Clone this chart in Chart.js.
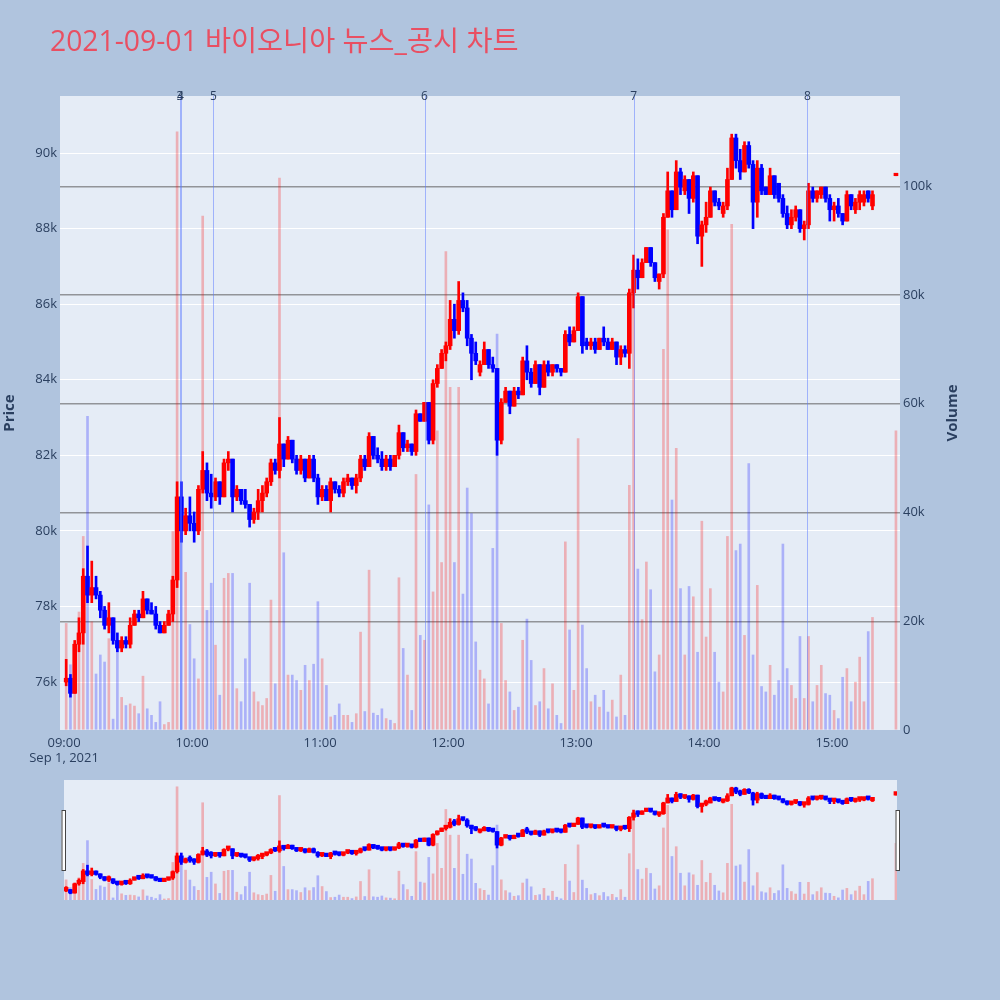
<!DOCTYPE html>
<html><head><meta charset="utf-8">
<script src="https://cdn.jsdelivr.net/npm/chart.js@4.4.0/dist/chart.umd.min.js"></script>
<style>
html,body{margin:0;padding:0;background:#B0C4DE;width:1000px;height:1000px;overflow:hidden;}
#title{position:absolute;left:50px;top:24px;line-height:32px;font-size:28.3px;font-family:"Open Sans","Noto Sans CJK KR",sans-serif;color:#E94F62;white-space:nowrap;}
#main{position:absolute;left:0;top:0;}
#slider{position:absolute;left:0;top:780px;}
</style></head><body>
<canvas id="main" width="1000" height="780"></canvas>
<canvas id="slider" width="1000" height="120"></canvas>
<div id="title">2021-09-01 바이오니아 뉴스_공시 차트</div>
<script>
// minutes after 09:00 (2-minute candles, midpoint) + closing auction 15:30
const candleMinutes = [1,3,5,7,9,11,13,15,17,19,21,23,25,27,29,31,33,35,37,39,
41,43,45,47,49,51,53,55,57,59,61,63,65,67,69,71,73,75,77,79,
81,83,85,87,89,91,93,95,97,99,101,103,105,107,109,111,113,115,117,119,
121,123,125,127,129,131,133,135,137,139,141,143,145,147,149,151,153,155,157,159,
161,163,165,167,169,171,173,175,177,179,181,183,185,187,189,191,193,195,197,199,
201,203,205,207,209,211,213,215,217,219,221,223,225,227,229,231,233,235,237,239,
241,243,245,247,249,251,253,255,257,259,261,263,265,267,269,271,273,275,277,279,
281,283,285,287,289,291,293,295,297,299,301,303,305,307,309,311,313,315,317,319,
321,323,325,327,329,331,333,335,337,339,341,343,345,347,349,351,353,355,357,359,
361,363,365,367,369,371,373,375,377,379,390];
// prices in thousand KRW
const openK = [76.0,76.1,75.7,77.0,77.3,78.8,78.3,78.5,78.3,77.9,
77.5,77.7,77.1,76.9,77.1,77.0,77.5,77.8,77.7,78.2,
77.9,77.8,77.5,77.3,77.5,77.8,78.7,80.9,80.0,80.4,
80.2,80.0,81.1,81.6,81.0,80.9,81.3,80.9,81.8,81.9,
80.9,81.1,80.8,80.7,80.3,80.5,80.8,81.0,81.3,81.8,
81.6,82.3,81.9,82.4,81.9,81.6,81.9,81.4,81.9,81.4,
80.9,81.1,80.8,81.3,81.1,81.0,81.3,81.4,81.2,81.4,
81.9,81.7,82.5,82.0,81.9,81.7,81.9,81.7,82.0,82.6,
82.2,82.3,82.1,83.1,82.9,83.4,82.4,83.9,84.3,84.7,
84.9,85.6,85.3,86.1,85.9,85.1,84.7,84.2,84.4,84.8,
84.4,84.3,82.4,83.4,83.7,83.3,83.7,83.6,84.5,84.2,
83.9,84.4,83.8,84.4,84.2,84.4,84.3,84.2,85.2,85.0,
85.3,86.2,85.0,84.9,85.0,84.8,85.1,85.0,84.8,85.0,
84.6,84.8,84.7,86.3,86.9,86.7,87.1,87.5,87.1,86.6,
86.8,88.3,89.0,88.5,89.5,89.0,89.3,88.8,89.4,87.8,
88.1,88.3,89.0,88.7,88.4,88.6,89.3,90.4,89.8,89.5,
90.2,89.7,88.7,89.6,89.1,88.9,89.4,89.2,88.8,88.4,
88.1,88.3,88.5,88.0,88.1,89.0,88.8,88.9,89.1,88.8,
88.5,88.6,88.4,88.2,88.9,88.5,88.7,88.7,89.0,88.6,
89.4];
const highK = [76.6,76.2,77.1,77.7,79.0,79.6,79.2,78.8,78.4,78.0,
78.1,77.7,77.3,77.2,77.2,77.7,77.9,77.9,78.4,78.2,
78.1,78.0,77.6,77.6,77.9,78.8,81.3,81.3,80.6,80.9,
80.5,81.2,82.1,81.8,81.5,81.4,81.3,81.9,82.1,81.9,
81.2,81.1,81.1,80.7,80.6,81.1,81.2,81.4,81.9,81.9,
83.0,82.3,82.5,82.4,82.0,82.0,81.9,82.0,82.0,81.5,
81.2,81.2,81.4,81.3,81.2,81.4,81.5,81.4,81.5,82.0,
82.0,82.6,82.5,82.2,82.1,82.0,82.0,82.0,82.8,82.6,
82.4,82.3,83.2,83.1,83.4,83.4,84.0,84.4,84.8,85.0,
86.1,86.0,86.6,86.3,86.1,85.2,85.0,84.5,85.0,84.8,
84.6,84.3,83.5,83.8,83.7,83.8,83.8,84.6,84.9,84.3,
84.5,84.4,84.5,84.5,84.4,84.4,84.3,85.3,85.4,85.4,
86.3,86.2,85.1,85.1,85.1,85.1,85.4,85.1,85.1,85.0,
84.9,84.9,86.4,87.3,87.2,87.2,87.5,87.5,87.1,86.8,
88.4,89.5,89.0,89.8,89.6,89.4,89.3,89.5,89.4,88.2,
88.7,89.1,89.0,88.8,88.7,89.6,90.5,90.5,90.1,90.3,
90.3,89.8,89.8,89.7,89.1,89.6,89.4,89.2,88.9,88.6,
88.5,88.6,88.5,88.2,89.2,89.1,89.0,89.1,89.1,88.9,
88.7,88.8,88.4,89.0,88.9,88.8,89.0,89.0,89.0,89.0,
89.4];
const lowK = [75.9,75.6,75.7,76.8,77.0,78.1,78.1,78.2,77.7,77.4,
77.3,77.0,76.8,76.8,76.9,76.9,77.5,77.6,77.7,77.8,
77.8,77.4,77.3,77.3,77.5,77.6,78.5,79.7,79.9,80.0,
79.7,79.9,81.0,80.8,80.6,80.8,80.7,80.9,81.6,80.5,
80.8,80.7,80.6,80.1,80.2,80.3,80.5,80.9,81.2,81.5,
81.4,81.7,81.9,81.8,81.5,81.5,81.3,81.4,81.3,80.7,
80.8,80.8,80.5,81.0,80.9,80.9,81.2,81.1,81.0,81.3,
81.6,81.7,81.9,81.8,81.6,81.6,81.6,81.7,81.9,82.1,
82.1,82.0,82.0,82.9,82.9,82.3,82.3,83.8,84.3,84.5,
84.8,85.1,85.2,85.8,84.9,84.0,84.4,84.1,84.4,84.3,
84.2,82.0,82.3,83.4,83.1,83.3,83.5,83.6,84.0,83.8,
83.9,83.6,83.8,84.1,84.1,84.2,84.1,84.2,84.9,85.0,
85.3,84.7,84.8,84.8,84.7,84.8,84.9,84.8,84.8,84.4,
84.4,84.6,84.3,85.9,86.4,86.7,87.1,87.0,86.6,86.4,
86.7,88.3,88.3,88.5,88.9,88.9,88.4,88.7,87.6,87.0,
87.9,88.3,88.6,88.5,88.3,88.5,89.3,89.6,89.3,89.5,
89.6,88.0,88.3,88.9,88.9,88.9,88.8,88.7,88.3,88.0,
88.0,88.2,87.9,87.7,88.0,88.7,88.7,88.8,88.7,88.2,
88.2,88.3,88.1,88.2,88.5,88.4,88.5,88.6,88.7,88.5,
89.4];
const closeK = [76.1,75.7,77.0,77.3,78.8,78.3,78.5,78.3,77.9,77.5,
77.7,77.1,76.9,77.1,77.0,77.5,77.8,77.7,78.2,77.9,
77.8,77.5,77.3,77.5,77.8,78.7,80.9,80.0,80.4,80.2,
80.0,81.1,81.6,81.0,80.9,81.3,80.9,81.8,81.9,80.9,
81.1,80.8,80.7,80.3,80.5,80.8,81.0,81.3,81.8,81.6,
82.3,81.9,82.4,81.9,81.6,81.9,81.4,81.9,81.4,80.9,
81.1,80.8,81.3,81.1,81.0,81.3,81.4,81.2,81.4,81.9,
81.7,82.5,82.0,81.9,81.7,81.9,81.7,82.0,82.6,82.2,
82.3,82.1,83.1,82.9,83.4,82.4,83.9,84.3,84.7,84.9,
85.6,85.3,86.1,85.9,85.1,84.7,84.5,84.4,84.8,84.4,
84.3,82.4,83.4,83.7,83.3,83.7,83.6,84.5,84.2,83.9,
84.4,83.8,84.4,84.2,84.4,84.3,84.2,85.2,85.0,85.3,
86.2,84.9,84.9,85.0,84.8,85.1,85.0,84.8,85.0,84.6,
84.8,84.7,86.3,86.9,86.7,87.1,87.5,87.1,86.7,86.8,
88.3,89.0,88.5,89.5,89.1,89.3,88.8,89.4,87.8,88.1,
88.3,89.0,88.7,88.6,88.6,89.3,90.4,89.8,89.5,90.2,
89.7,88.7,89.6,89.0,88.9,89.4,88.9,88.8,88.4,88.1,
88.3,88.5,88.0,88.1,89.0,88.8,89.0,89.1,88.8,88.5,
88.6,88.4,88.2,88.9,88.6,88.7,88.9,88.9,88.8,88.9,
89.4];
// volume in thousand shares
const volumeK = [19.6,12,13.8,21.7,35.6,57.7,19.9,10.3,13.8,12.5,
16.8,2,15,6,4.5,4.8,4.4,3,9.9,3.9,
2.7,1.4,5.2,1,1.4,36.5,110,37,29,19.4,
13.1,9.4,94.5,22,27,15.6,6.4,27.9,28.8,28.8,
7.6,5.2,13.1,27,7,5.2,4.5,5.8,23.9,8.5,
101.5,32.6,10.1,10.1,9.1,7.3,11.9,9.1,12.1,23.6,
13.1,8.2,2.4,2.7,4.8,2.7,2.7,1.4,3,18,
3.4,29.4,3.1,2.7,3.9,2.1,1.8,1.2,28,15,
10.1,3.6,47,17.4,16.5,41.4,25.4,55,30.8,88,
63,30.8,63,25,44.5,39.8,16.2,11,9.4,4.8,
33.4,72.8,19.6,9.1,7,3.6,4.2,16.5,20.4,12.8,
4.5,5.2,11.3,3.9,8.5,2.7,1.2,34.6,18.4,7.3,
53.6,19.3,11.3,5.2,6.4,4.2,7.3,3.3,5.5,2.4,
10.1,2.7,45,85,29.6,20.3,30.9,25.8,10.7,13.8,
70,92,42.3,51.8,26,13.8,26.4,24.5,14.3,38.4,
17.1,26,14.3,8.8,7,35.6,93,33,34.2,17.4,
49,13.8,26.6,8,7,11.9,6.4,9.1,34.2,11.3,
8.2,5.8,17.2,5.8,17.2,5.2,8.2,11.9,6.7,6.4,
3.6,2.1,9.7,11.3,5.2,8.8,13.4,5.2,18.1,20.7,
55];
const priceTicksK = [76,78,80,82,84,86,88,90];
const volumeTicksK = [0,20,40,60,80,100];
const hourTickMinutes = [0,60,120,180,240,300,360];
const hourTickLabels = ['09:00','10:00','11:00','12:00','13:00','14:00','15:00'];
const dateLabel = 'Sep 1, 2021';
const newsMinutes = [54.3,54.6,70,169,267,348.5];
const newsLabels = ['3','4','5','6','7','8'];

const FONT = '"Open Sans","Noto Sans CJK KR",sans-serif';
Chart.defaults.font.family = FONT;
Chart.defaults.color = '#2a3f5f';

const UP = '#FF0000', DOWN = '#0000FF';
const UPV = 'rgba(255,0,0,0.26)', DOWNV = 'rgba(0,0,255,0.25)';
const isUp = closeK.map((c,i)=> c >= openK[i]);
const bodyData = candleMinutes.map((t,i)=>({x:t, y:[openK[i], closeK[i]]}));
const wickData = candleMinutes.map((t,i)=>({x:t, y:[lowK[i], highK[i]]}));
const volData = candleMinutes.map((t,i)=>({x:t, y:volumeK[i]}));

function datasets(bodyW, wickW, volW, minBody){
  return [
    {type:'bar', data:bodyData, yAxisID:'y', order:0, grouped:false, barThickness:bodyW, minBarLength:minBody,
     backgroundColor:c=>isUp[c.dataIndex]?UP:DOWN, borderWidth:0},
    {type:'bar', data:wickData, yAxisID:'y', order:1, grouped:false, barThickness:wickW, minBarLength:1,
     backgroundColor:c=>isUp[c.dataIndex]?UP:DOWN, borderWidth:0},
    {type:'bar', data:volData, yAxisID:'y1', order:2, grouped:false, barThickness:volW,
     backgroundColor:c=>isUp[c.dataIndex]?UPV:DOWNV, borderWidth:0}
  ];
}

const plotBg = {id:'plotBg', beforeDraw(chart){
  const {ctx, chartArea:a} = chart; ctx.save(); ctx.fillStyle='#E5ECF6';
  ctx.fillRect(a.left,a.top,a.right-a.left,a.bottom-a.top); ctx.restore();
}};

const newsPlugin = {id:'news', afterDraw(chart){
  const {ctx, chartArea:a, scales} = chart; ctx.save();
  newsMinutes.forEach((m)=>{
    const x = Math.round(scales.x.getPixelForValue(m))+0.5;
    ctx.strokeStyle='rgba(90,120,255,0.5)'; ctx.lineWidth=1;
    ctx.beginPath(); ctx.moveTo(x,a.top); ctx.lineTo(x,a.bottom); ctx.stroke();
  });
  ctx.fillStyle='#2a3f5f'; ctx.font='12px '+FONT; ctx.textAlign='center'; ctx.textBaseline='middle';
  newsMinutes.forEach((m,i)=>{
    ctx.fillText(newsLabels[i], scales.x.getPixelForValue(m), a.top+1);
  });
  ctx.font='bold 15px '+FONT; ctx.fillStyle='#2a3f5f';
  const midY=(a.top+a.bottom)/2;
  ctx.save(); ctx.translate(9.5,midY); ctx.rotate(-Math.PI/2); ctx.fillText('Price',0,0); ctx.restore();
  ctx.save(); ctx.translate(953,midY); ctx.rotate(-Math.PI/2); ctx.fillText('Volume',0,0); ctx.restore();
  ctx.restore();
}};

new Chart(document.getElementById('main'), {
  type:'bar',
  data:{datasets:datasets(4,2,2,2.5)},
  options:{
    responsive:false, animation:false, devicePixelRatio:1,
    layout:{padding:{top:96,left:0,right:0,bottom:0}},
    plugins:{legend:{display:false}, tooltip:{enabled:false}},
    scales:{
      x:{type:'linear', min:-1.9, max:391.9, offset:false,
         grid:{display:false, drawTicks:false}, border:{display:false},
         afterBuildTicks:s=>{s.ticks=hourTickMinutes.map(v=>({value:v}));},
         afterFit:s=>{s.height=50;},
         ticks:{padding:5, maxRotation:0, autoSkip:false, font:{size:13},
           callback:(v)=>{const k=hourTickMinutes.indexOf(v); return k===0?[hourTickLabels[0],dateLabel]:hourTickLabels[k];}}},
      y:{type:'linear', position:'left', min:74.73, max:91.51,
         grid:{color:'#ffffff', lineWidth:1, drawTicks:false}, border:{display:false},
         afterBuildTicks:s=>{s.ticks=priceTicksK.map(v=>({value:v}));},
         afterFit:s=>{s.width=60;},
         ticks:{padding:3, font:{size:13}, callback:v=>v+'k'}},
      y1:{type:'linear', position:'right', min:0, max:116.6,
         grid:{color:c=>c.tick&&c.tick.value===0?'rgba(0,0,0,0)':'rgba(90,90,90,0.6)', lineWidth:1.5, drawTicks:false}, border:{display:false},
         afterBuildTicks:s=>{s.ticks=volumeTicksK.map(v=>({value:v}));},
         afterFit:s=>{s.width=100;},
         ticks:{padding:3, font:{size:13}, callback:v=>v===0?'0':v+'k'}}
    }
  },
  plugins:[plotBg, newsPlugin]
});

const handles = {id:'handles', afterDraw(chart){
  const {ctx, chartArea:a} = chart; ctx.save();
  ctx.fillStyle='#ffffff'; ctx.strokeStyle='#444444'; ctx.lineWidth=1;
  [a.left-2.5, a.right-1.5].forEach((x)=>{
    ctx.fillRect(x,30.5,4,60); ctx.strokeRect(x+0.5,30.5,3.5,60);
  });
  ctx.restore();
}};

new Chart(document.getElementById('slider'), {
  type:'bar',
  data:{datasets:datasets(4,2,2,3.5)},
  options:{
    responsive:false, animation:false, devicePixelRatio:1,
    layout:{padding:{top:0,left:64,right:103,bottom:0}},
    plugins:{legend:{display:false}, tooltip:{enabled:false}},
    scales:{
      x:{type:'linear', min:0, max:390.5, offset:false, display:false},
      y:{type:'linear', min:74.73, max:91.51, display:false},
      y1:{type:'linear', min:0, max:116.6, display:false}
    }
  },
  plugins:[plotBg, handles]
});
</script>
</body></html>
